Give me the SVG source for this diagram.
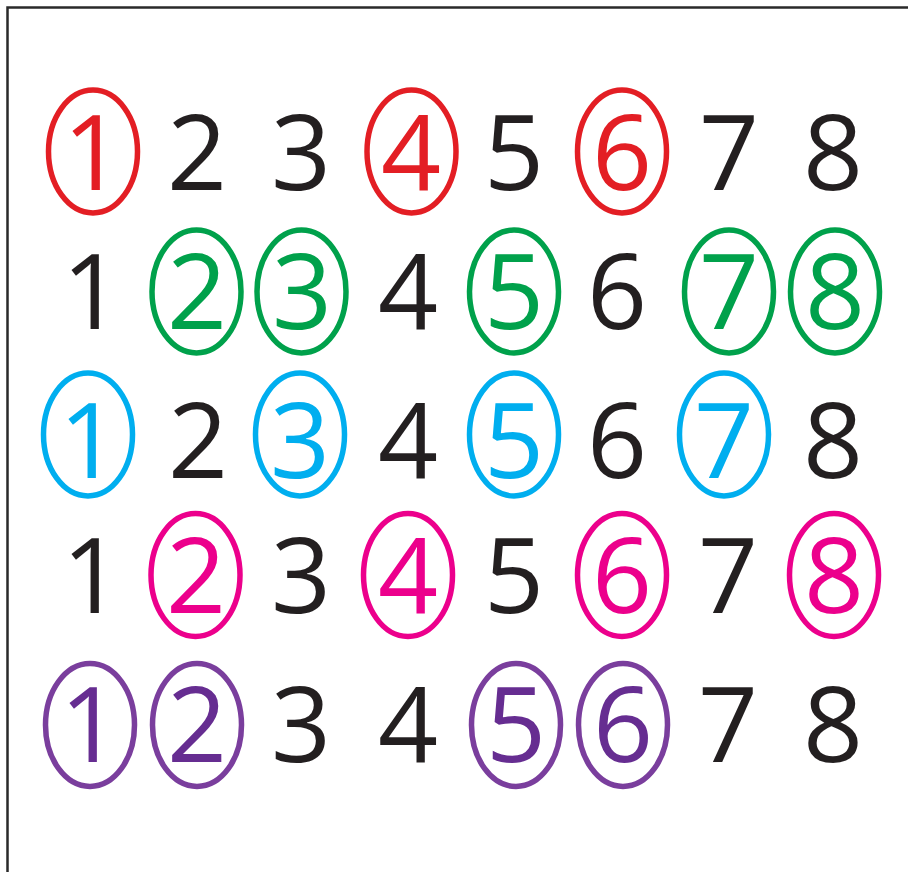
<svg xmlns="http://www.w3.org/2000/svg" width="908" height="872" viewBox="0 0 908 872">
<style>
text{font-family:"Open Sans","Liberation Sans",sans-serif;font-size:105px;text-anchor:middle}
.k{fill:#231f20}
ellipse{fill:none;stroke-width:5.5}
.r ellipse{stroke:#e31e24}.r text{fill:#e31e24}
.g ellipse{stroke:#00a14b}.g text{fill:#00a14b}
.c ellipse{stroke:#00aeef}.c text{fill:#00aeef}
.m ellipse{stroke:#ec008c}.m text{fill:#ec008c}
.p ellipse{stroke:#7a3e9d}.p text{fill:#662d91}
</style>
<rect x="0" y="0" width="908" height="872" fill="#ffffff"/>
<rect x="7.5" y="7.5" width="930" height="900" fill="none" stroke="#2a2a2a" stroke-width="2.5"/>
<g id="row1">
<g id="r1n1" class="r"><ellipse cx="93" cy="151.5" rx="44.5" ry="61.5"/><text x="93" y="190">1</text></g>
<g id="r1n2"><text class="k" x="197" y="190">2</text></g>
<g id="r1n3"><text class="k" x="301" y="190">3</text></g>
<g id="r1n4" class="r"><ellipse cx="411.5" cy="151.5" rx="44.5" ry="61.5"/><text x="411" y="190">4</text></g>
<g id="r1n5"><text class="k" x="514" y="190">5</text></g>
<g id="r1n6" class="r"><ellipse cx="622" cy="151.5" rx="44.5" ry="61.5"/><text x="622" y="190">6</text></g>
<g id="r1n7"><text class="k" x="729" y="190">7</text></g>
<g id="r1n8"><text class="k" x="833" y="190">8</text></g>
</g>
<g id="row2">
<g id="r2n1"><text class="k" x="92" y="329">1</text></g>
<g id="r2n2" class="g"><ellipse cx="196.5" cy="291.5" rx="44.5" ry="61.5"/><text x="197" y="329">2</text></g>
<g id="r2n3" class="g"><ellipse cx="301.5" cy="291.5" rx="44.5" ry="61.5"/><text x="302" y="329">3</text></g>
<g id="r2n4"><text class="k" x="408" y="329">4</text></g>
<g id="r2n5" class="g"><ellipse cx="514" cy="291.5" rx="44.5" ry="61.5"/><text x="514" y="329">5</text></g>
<g id="r2n6"><text class="k" x="617" y="329">6</text></g>
<g id="r2n7" class="g"><ellipse cx="729" cy="291.5" rx="44.5" ry="61.5"/><text x="729" y="329">7</text></g>
<g id="r2n8" class="g"><ellipse cx="835" cy="291.5" rx="44.5" ry="61.5"/><text x="835" y="329">8</text></g>
</g>
<g id="row3">
<g id="r3n1" class="c"><ellipse cx="88" cy="434.5" rx="44.5" ry="61.5"/><text x="89" y="478">1</text></g>
<g id="r3n2"><text class="k" x="198" y="478">2</text></g>
<g id="r3n3" class="c"><ellipse cx="300" cy="434.5" rx="44.5" ry="61.5"/><text x="300" y="478">3</text></g>
<g id="r3n4"><text class="k" x="408" y="478">4</text></g>
<g id="r3n5" class="c"><ellipse cx="514" cy="434.5" rx="44.5" ry="61.5"/><text x="514" y="478">5</text></g>
<g id="r3n6"><text class="k" x="617" y="478">6</text></g>
<g id="r3n7" class="c"><ellipse cx="724" cy="434.5" rx="44.5" ry="61.5"/><text x="724" y="478">7</text></g>
<g id="r3n8"><text class="k" x="833" y="478">8</text></g>
</g>
<g id="row4">
<g id="r4n1"><text class="k" x="92" y="613">1</text></g>
<g id="r4n2" class="m"><ellipse cx="195.5" cy="575" rx="44.5" ry="61.5"/><text x="196" y="613">2</text></g>
<g id="r4n3"><text class="k" x="301" y="613">3</text></g>
<g id="r4n4" class="m"><ellipse cx="408" cy="575" rx="44.5" ry="61.5"/><text x="408" y="613">4</text></g>
<g id="r4n5"><text class="k" x="514" y="613">5</text></g>
<g id="r4n6" class="m"><ellipse cx="622" cy="575" rx="44.5" ry="61.5"/><text x="622" y="613">6</text></g>
<g id="r4n7"><text class="k" x="728" y="613">7</text></g>
<g id="r4n8" class="m"><ellipse cx="834" cy="575" rx="44.5" ry="61.5"/><text x="834" y="613">8</text></g>
</g>
<g id="row5">
<g id="r5n1" class="p"><ellipse cx="90" cy="725" rx="44.5" ry="61.5"/><text x="90" y="762">1</text></g>
<g id="r5n2" class="p"><ellipse cx="197" cy="725" rx="44.5" ry="61.5"/><text x="197" y="762">2</text></g>
<g id="r5n3"><text class="k" x="301" y="762">3</text></g>
<g id="r5n4"><text class="k" x="408" y="762">4</text></g>
<g id="r5n5" class="p"><ellipse cx="516" cy="725" rx="44.5" ry="61.5"/><text x="516" y="762">5</text></g>
<g id="r5n6" class="p"><ellipse cx="623" cy="725" rx="44.5" ry="61.5"/><text x="623" y="762">6</text></g>
<g id="r5n7"><text class="k" x="728" y="762">7</text></g>
<g id="r5n8"><text class="k" x="833" y="762">8</text></g>
</g>
<g id="connectors"/>
</svg>
